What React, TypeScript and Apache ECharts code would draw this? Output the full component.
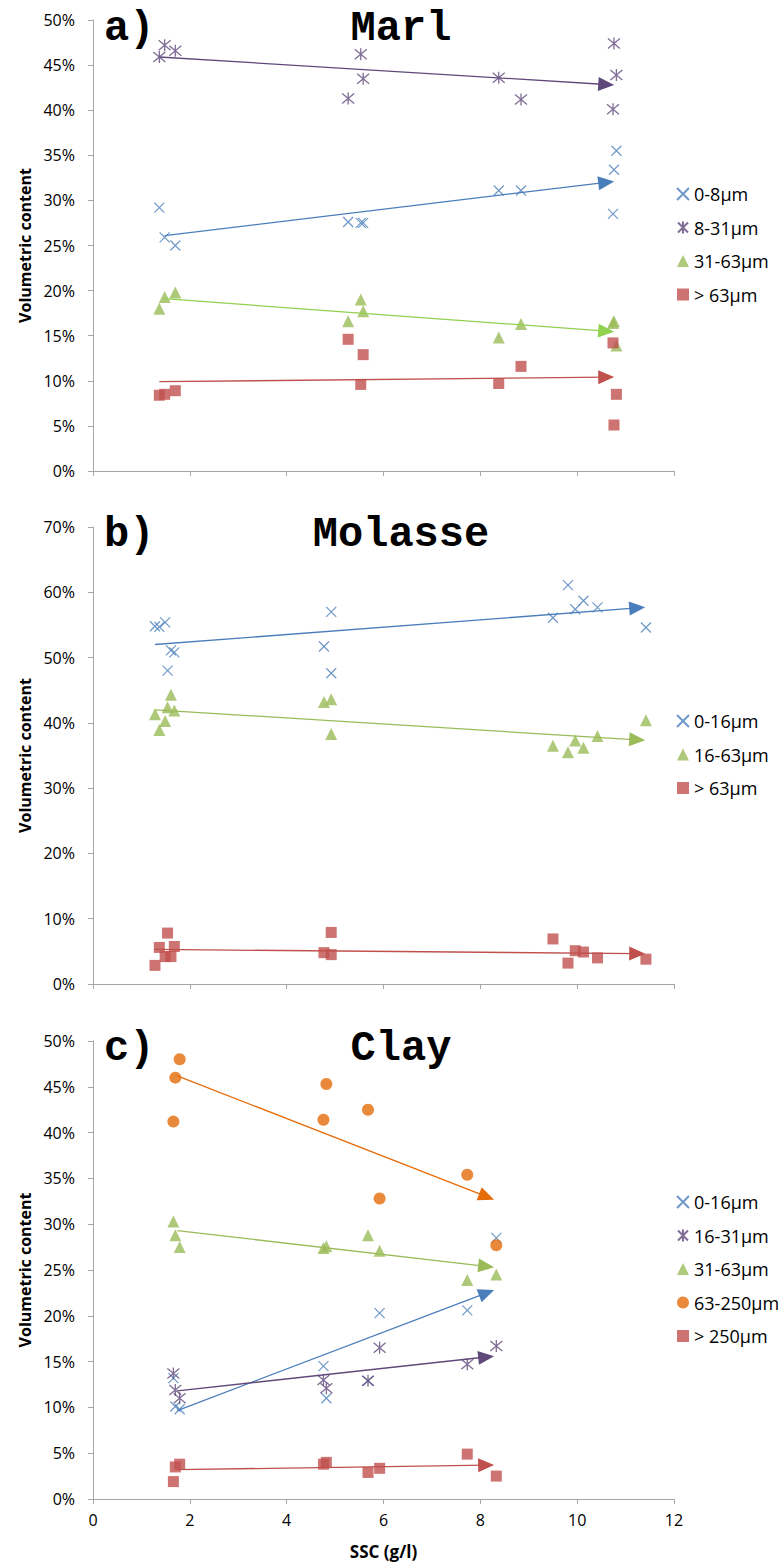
import React, { useEffect, useRef } from "react";
import * as echarts from "echarts";

// ---------- Panel a) Marl ----------
const marlX = [1.37, 1.48, 1.70, 5.27, 5.53, 5.58, 8.38, 8.84, 10.74, 10.76, 10.81];
const marl0to8 = [29.2, 25.9, 25.0, 27.6, 27.5, 27.5, 31.1, 31.1, 28.5, 33.4, 35.5];
const marl8to31 = [45.9, 47.2, 46.6, 41.3, 46.2, 43.5, 43.6, 41.2, 40.1, 47.4, 43.9];
const marl31to63 = [18.0, 19.3, 19.8, 16.6, 19.0, 17.7, 14.8, 16.3, 16.4, 16.6, 13.9];
const marlOver63 = [8.4, 8.5, 8.9, 14.6, 9.6, 12.9, 9.7, 11.6, 14.2, 5.1, 8.5];
const marlTrend0to8 = [[1.48, 26.1], [10.6, 32.0]];
const marlTrend8to31 = [[1.37, 45.9], [10.6, 42.85]];
const marlTrend31to63 = [[1.48, 19.1], [10.6, 15.5]];
const marlTrendOver63 = [[1.37, 9.9], [10.6, 10.4]];

// ---------- Panel b) Molasse ----------
const molX = [1.28, 1.37, 1.49, 1.54, 1.61, 1.68, 4.77, 4.92, 4.92, 9.5, 9.81, 9.96, 10.13, 10.42, 11.42];
const mol0to16 = [54.8, 54.7, 55.4, 48.0, 51.1, 50.8, 51.7, 57.0, 47.6, 56.1, 61.1, 57.4, 58.7, 57.7, 54.6];
const mol16to63 = [41.3, 38.9, 40.3, 42.4, 44.3, 41.9, 43.2, 43.6, 38.3, 36.5, 35.5, 37.3, 36.2, 38.0, 40.4];
const molOver63 = [2.85, 5.6, 4.2, 7.8, 4.2, 5.75, 4.8, 7.9, 4.5, 6.9, 3.2, 5.1, 4.9, 4.0, 3.8];
const molTrend0to16 = [[1.28, 52.0], [11.24, 57.6]];
const molTrend16to63 = [[1.28, 42.0], [11.24, 37.4]];
const molTrendOver63 = [[1.28, 5.3], [11.24, 4.65]];

// ---------- Panel c) Clay ----------
const clayX = [1.66, 1.70, 1.79, 4.76, 4.82, 5.68, 5.92, 7.73, 8.33];
const clay0to16 = [13.2, 10.1, 9.8, 14.5, 11.0, 12.9, 20.3, 20.6, 28.5];
const clay16to31 = [13.7, 11.9, 11.0, 13.0, 12.1, 12.9, 16.5, 14.7, 16.7];
const clay31to63 = [30.3, 28.8, 27.5, 27.4, 27.6, 28.8, 27.1, 23.9, 24.5];
const clay63to250 = [41.2, 46.0, 48.0, 41.4, 45.3, 42.5, 32.8, 35.4, 27.7];
const clayOver250 = [1.9, 3.5, 3.8, 3.8, 4.0, 2.9, 3.35, 4.9, 2.5];
const clayTrend0to16 = [[1.74, 9.65], [8.13, 22.5]];
const clayTrend16to31 = [[1.74, 11.8], [8.12, 15.5]];
const clayTrend31to63 = [[1.74, 29.3], [8.12, 25.4]];
const clayTrend63to250 = [[1.74, 46.2], [8.13, 33.0]];
const clayTrendOver250 = [[1.74, 3.2], [8.12, 3.7]];

const xTicks = { min: 0, max: 12, interval: 2 };

const X_SYMBOL = "path://M0,0L10,10M10,0L0,10";
const STAR_SYMBOL = "path://M0,0L10,10M10,0L0,10M5,-1L5,11";

const BLUE = "#4A7EBB";
const PURPLE = "#5F497A";
const GREEN = "#9BBB59";
const RED = "#C0504D";
const ORANGE = "#E46C0A";
const AXIS = "#A6A6A6";
const FONT = "'Open Sans', sans-serif";

type Marker = "x" | "star" | "triangle" | "rect" | "circle";

function makeSeries(
  id: string,
  name: string,
  xs: number[],
  ys: number[],
  grid: number,
  marker: Marker,
  color: string,
  trend: number[][],
  trendColor: string
) {
  let symbol: string = marker;
  let size: number = 11;
  let itemStyle: any = { color };
  if (marker === "x") {
    symbol = X_SYMBOL;
    size = 10;
    itemStyle = { color: "rgba(0,0,0,0)", borderColor: color, borderWidth: 1.2 };
  } else if (marker === "star") {
    symbol = STAR_SYMBOL;
    size = 12;
    itemStyle = { color: "rgba(0,0,0,0)", borderColor: color, borderWidth: 1.3 };
  } else if (marker === "triangle") {
    size = 12;
  } else if (marker === "circle") {
    size = 12;
  } else if (marker === "rect") {
    size = 11;
  }
  return {
    id,
    name: `${id}|${name}`,
    type: "scatter",
    xAxisIndex: grid,
    yAxisIndex: grid,
    symbol,
    symbolSize: size,
    itemStyle,
    emphasis: { disabled: true },
    data: xs.map((x, i) => [x, ys[i]]),
    markLine: {
      silent: true,
      animation: false,
      symbol: ["none", "triangle"],
      symbolSize: [14, 16],
      label: { show: false },
      emphasis: { disabled: true },
      lineStyle: { color: trendColor, width: 1.3, type: "solid" },
      data: [[{ coord: trend[0] }, { coord: trend[1] }]],
    },
  };
}

function xAxisCfg(grid: number, showLabels: boolean) {
  return {
    gridIndex: grid,
    type: "value",
    ...xTicks,
    axisLine: { show: true, onZero: false, lineStyle: { color: AXIS, width: 1 } },
    axisTick: { show: true, length: 5, lineStyle: { color: AXIS } },
    splitLine: { show: false },
    axisLabel: { show: showLabels, color: "#000", fontSize: 16, fontFamily: FONT, margin: 13 },
    name: showLabels ? "SSC (g/l)" : "",
    nameLocation: "middle",
    nameGap: 44,
    nameTextStyle: { color: "#000", fontSize: 17, fontWeight: "bold", fontFamily: FONT },
  };
}

function yAxisCfg(grid: number, max: number, interval: number) {
  return {
    gridIndex: grid,
    type: "value",
    min: 0,
    max,
    interval,
    axisLine: { show: true, onZero: false, lineStyle: { color: AXIS, width: 1 } },
    axisTick: { show: true, length: 5, lineStyle: { color: AXIS } },
    splitLine: { show: false },
    axisLabel: { formatter: "{value}%", color: "#000", fontSize: 16, fontFamily: FONT, margin: 18 },
    name: "Volumetric content",
    nameLocation: "middle",
    nameGap: 57,
    nameTextStyle: { color: "#000", fontSize: 16, fontWeight: "bold", fontFamily: FONT },
  };
}

function legendCfg(top: number, ids: string[]) {
  return {
    orient: "vertical",
    left: 676,
    top,
    padding: 0,
    itemWidth: 12,
    itemHeight: 12,
    itemGap: 13.5,
    selectedMode: false,
    data: ids,
    formatter: (n: string) => n.split("|")[1],
    textStyle: { color: "#000", fontSize: 18, fontFamily: FONT, lineHeight: 20 },
  };
}

function titleText(text: string, x: number, y: number, align: string) {
  return {
    type: "text",
    x,
    y,
    silent: true,
    style: {
      text,
      align,
      verticalAlign: "middle",
      fill: "#000",
      font: "bold 42px 'Liberation Mono', 'Courier New', monospace",
    },
  };
}

export default function App() {
  const ref = useRef<HTMLDivElement>(null);
  useEffect(() => {
    if (!ref.current) return;
    const chart = echarts.init(ref.current, undefined, { renderer: "svg" });
    const series = [
      makeSeries("a1", "0-8µm", marlX, marl0to8, 0, "x", BLUE, marlTrend0to8, BLUE),
      makeSeries("a2", "8-31µm", marlX, marl8to31, 0, "star", PURPLE, marlTrend8to31, PURPLE),
      makeSeries("a3", "31-63µm", marlX, marl31to63, 0, "triangle", GREEN, marlTrend31to63, "#92D050"),
      makeSeries("a4", "> 63µm", marlX, marlOver63, 0, "rect", RED, marlTrendOver63, RED),
      makeSeries("b1", "0-16µm", molX, mol0to16, 1, "x", BLUE, molTrend0to16, BLUE),
      makeSeries("b2", "16-63µm", molX, mol16to63, 1, "triangle", GREEN, molTrend16to63, GREEN),
      makeSeries("b3", "> 63µm", molX, molOver63, 1, "rect", RED, molTrendOver63, RED),
      makeSeries("c1", "0-16µm", clayX, clay0to16, 2, "x", BLUE, clayTrend0to16, BLUE),
      makeSeries("c2", "16-31µm", clayX, clay16to31, 2, "star", PURPLE, clayTrend16to31, PURPLE),
      makeSeries("c3", "31-63µm", clayX, clay31to63, 2, "triangle", GREEN, clayTrend31to63, GREEN),
      makeSeries("c4", "63-250µm", clayX, clay63to250, 2, "circle", ORANGE, clayTrend63to250, ORANGE),
      makeSeries("c5", "> 250µm", clayX, clayOver250, 2, "rect", RED, clayTrendOver250, RED),
    ];
    const option: any = {
      animation: false,
      backgroundColor: "#fff",
      grid: [
        { left: 93, width: 581, top: 20, height: 451 },
        { left: 93, width: 581, top: 527, height: 457 },
        { left: 93, width: 581, top: 1041, height: 458 },
      ],
      xAxis: [xAxisCfg(0, false), xAxisCfg(1, false), xAxisCfg(2, true)],
      yAxis: [yAxisCfg(0, 50, 5), yAxisCfg(1, 70, 10), yAxisCfg(2, 50, 5)],
      legend: [
        legendCfg(184, series.slice(0, 4).map((s) => s.name)),
        legendCfg(711, series.slice(4, 7).map((s) => s.name)),
        legendCfg(1192, series.slice(7).map((s) => s.name)),
      ],
      graphic: [
        titleText("a)", 104, 29, "left"),
        titleText("Marl", 401, 29, "center"),
        titleText("b)", 104, 535, "left"),
        titleText("Molasse", 401, 535, "center"),
        titleText("c)", 104, 1049, "left"),
        titleText("Clay", 401, 1049, "center"),
      ],
      series,
    };
    chart.setOption(option);
    return () => chart.dispose();
  }, []);
  return (
    <div
      ref={ref}
      style={{ position: "absolute", left: 0, top: 0, width: 784, height: 1568, background: "#fff" }}
    />
  );
}
